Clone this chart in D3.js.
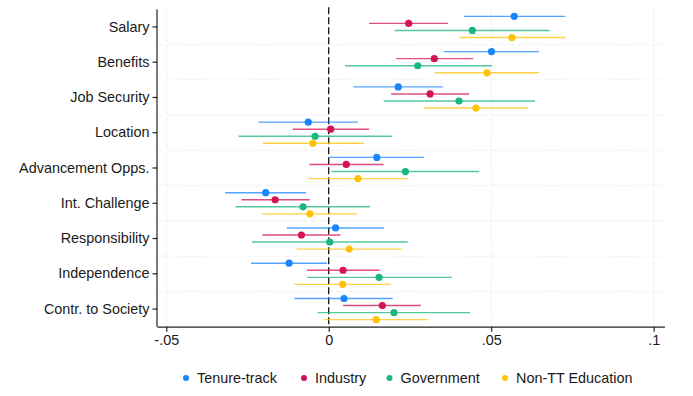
<!DOCTYPE html>
<html>
<head>
<meta charset="utf-8">
<script src="https://cdn.jsdelivr.net/npm/d3@7"></script>
<style>
    body { margin: 0; background: #fff; }
    text { font-family: "Liberation Sans", Arial, sans-serif; fill: #1a1a1a; }
</style>
</head>
<body>
<div id="chart"></div>
<script>
// Categories (top to bottom)
const categories = ['Salary', 'Benefits', 'Job Security', 'Location', 'Advancement Opps.',
    'Int. Challenge', 'Responsibility', 'Independence', 'Contr. to Society'];

const seriesNames = ['Tenure-track', 'Industry', 'Government', 'Non-TT Education'];
const seriesColors = ['#1a85ff', '#d41159', '#1bb67c', '#ffc20a'];

// Point estimates and CI bounds, one array per series
const ttEst = [0.0571, 0.0501, 0.0214, -0.0063, 0.0148, -0.0194, 0.0021, -0.0122, 0.0047];
const ttLo  = [0.0416, 0.0355, 0.0076, -0.0216, 0.0001, -0.0319, -0.0129, -0.0239, -0.0106];
const ttHi  = [0.0728, 0.0647, 0.0351, 0.0090, 0.0293, -0.0070, 0.0170, -0.0005, 0.0197];

const indEst = [0.0246, 0.0325, 0.0312, 0.0006, 0.0054, -0.0165, -0.0084, 0.0044, 0.0165];
const indLo  = [0.0124, 0.0208, 0.0192, -0.0111, -0.0060, -0.0269, -0.0204, -0.0067, 0.0044];
const indHi  = [0.0367, 0.0445, 0.0432, 0.0124, 0.0169, -0.0058, 0.0036, 0.0156, 0.0284];

const govEst = [0.0442, 0.0274, 0.0401, -0.0042, 0.0236, -0.0079, 0.0003, 0.0155, 0.0201];
const govLo  = [0.0203, 0.0050, 0.0169, -0.0278, 0.0008, -0.0287, -0.0236, -0.0066, -0.0034];
const govHi  = [0.0680, 0.0502, 0.0635, 0.0194, 0.0463, 0.0127, 0.0243, 0.0379, 0.0435];

const nttEst = [0.0564, 0.0487, 0.0453, -0.0049, 0.0090, -0.0058, 0.0063, 0.0043, 0.0146];
const nttLo  = [0.0402, 0.0326, 0.0294, -0.0203, -0.0063, -0.0204, -0.0099, -0.0106, -0.0014];
const nttHi  = [0.0728, 0.0647, 0.0613, 0.0108, 0.0244, 0.0087, 0.0224, 0.0191, 0.0305];

const xTicks = [-0.05, 0, 0.05, 0.1];
const xTickLabels = ['-.05', '0', '.05', '.1'];

const series = [
    { est: ttEst, lo: ttLo, hi: ttHi },
    { est: indEst, lo: indLo, hi: indHi },
    { est: govEst, lo: govLo, hi: govHi },
    { est: nttEst, lo: nttLo, hi: nttHi }
];

const width = 693, height = 396;
const plot = { left: 157.5, right: 665, top: 9.3, bottom: 326.7 };

const svg = d3.select('#chart').append('svg')
    .attr('width', width)
    .attr('height', height);

const x = d3.scaleLinear().domain([-0.0527, 0.1035]).range([plot.left, plot.right]);
const y = d3.scaleBand().domain(categories).range([plot.top, plot.bottom]);
const bw = y.bandwidth();

// gridlines
const grid = svg.append('g')
    .attr('stroke', '#efefef')
    .attr('stroke-width', 1)
    .attr('stroke-dasharray', '6,3');
categories.slice(1).forEach(c => {
    grid.append('line')
        .attr('x1', plot.left).attr('x2', plot.right)
        .attr('y1', y(c)).attr('y2', y(c));
});
xTicks.filter(t => t !== 0).forEach(t => {
    grid.append('line')
        .attr('x1', x(t)).attr('x2', x(t))
        .attr('y1', plot.top).attr('y2', plot.bottom);
});

// zero reference line
svg.append('line')
    .attr('x1', x(0)).attr('x2', x(0))
    .attr('y1', plot.top - 2).attr('y2', plot.bottom)
    .attr('stroke', '#000')
    .attr('stroke-width', 1.2)
    .attr('stroke-dasharray', '7,3');

// CIs and points
series.forEach((s, si) => {
    const off = (si - 1.5) * 0.2 * bw;
    const g = svg.append('g');
    g.selectAll('line')
        .data(categories)
        .enter()
        .append('line')
        .attr('x1', (d, i) => x(s.lo[i]))
        .attr('x2', (d, i) => x(s.hi[i]))
        .attr('y1', d => y(d) + bw / 2 + off)
        .attr('y2', d => y(d) + bw / 2 + off)
        .attr('stroke', seriesColors[si])
        .attr('stroke-opacity', 0.75)
        .attr('stroke-width', 1.4);
    g.selectAll('circle')
        .data(categories)
        .enter()
        .append('circle')
        .attr('cx', (d, i) => x(s.est[i]))
        .attr('cy', d => y(d) + bw / 2 + off)
        .attr('r', 3.6)
        .attr('fill', seriesColors[si]);
});

// axes
const yAxis = svg.append('g')
    .attr('transform', `translate(${plot.left},0)`)
    .call(d3.axisLeft(y).tickSize(5).tickPadding(3));
const xAxis = svg.append('g')
    .attr('transform', `translate(0,${plot.bottom})`)
    .call(d3.axisBottom(x).tickValues(xTicks).tickFormat((d, i) => xTickLabels[i]).tickSize(5).tickPadding(3));

[yAxis, xAxis].forEach(a => {
    a.select('.domain').attr('stroke', '#222').attr('stroke-width', 1.2);
    a.selectAll('.tick line').attr('stroke', '#222').attr('stroke-width', 1.2);
    a.selectAll('text').style('font-size', '14.4px').attr('fill', '#1a1a1a');
});
yAxis.select('.domain').attr('d', `M-0.5,${plot.top}V${plot.bottom}`);
xAxis.select('.domain').attr('d', `M${plot.left},0.5H${plot.right}`);

// legend
const legendX = [186, 304, 389.5, 505];
const legend = svg.append('g');
seriesNames.forEach((name, i) => {
    legend.append('circle')
        .attr('cx', legendX[i]).attr('cy', 378)
        .attr('r', 3)
        .attr('fill', seriesColors[i]);
    legend.append('text')
        .attr('x', legendX[i] + 11).attr('y', 383)
        .style('font-size', '14.4px')
        .text(name);
});
</script>
</body>
</html>
